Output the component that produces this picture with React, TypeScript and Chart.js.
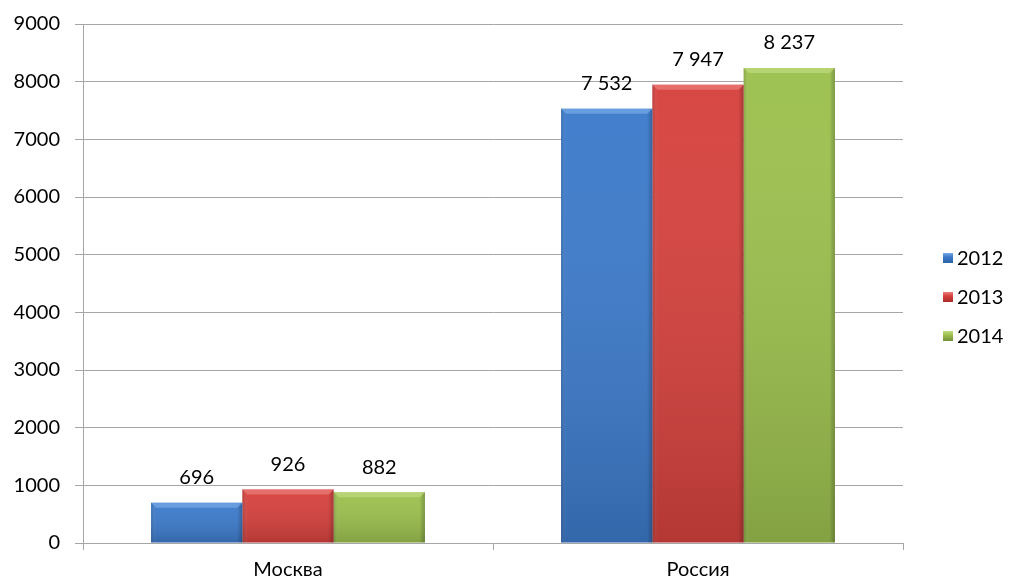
import React, { useEffect, useRef } from "react";
import { Chart, registerables } from "chart.js";

Chart.register(...registerables);

const categories = ["Москва", "Россия"];
const seriesNames = ["2012", "2013", "2014"];
const values2012 = [696, 7532];
const values2013 = [926, 7947];
const values2014 = [882, 8237];
const yTicks = [0, 1000, 2000, 3000, 4000, 5000, 6000, 7000, 8000, 9000];

const colors = ["#3d7bcb", "#d6423e", "#9cc04e"];
const lightColors = ["#78a9e6", "#ec807c", "#c0dc80"];
const darkColors = ["#2d62a6", "#a82c29", "#748f37"];

const FONT = "Lato, 'Open Sans', sans-serif";
const FS = 20;

function fmt(v: number): string {
  return String(v).replace(/\B(?=(\d{3})+(?!\d))/g, " ");
}

const bevelPlugin = {
  id: "bevel",
  afterDatasetsDraw(chart: any) {
    const ctx = chart.ctx;
    chart.data.datasets.forEach((ds: any, di: number) => {
      const meta = chart.getDatasetMeta(di);
      meta.data.forEach((bar: any, i: number) => {
        const w = bar.width;
        const left = bar.x - w / 2;
        const right = bar.x + w / 2;
        const top = bar.y;
        const bottom = bar.base;
        ctx.save();
        const gv = ctx.createLinearGradient(0, top, 0, bottom);
        gv.addColorStop(0, "rgba(255,255,255,0.03)");
        gv.addColorStop(1, "rgba(0,0,0,0.16)");
        ctx.fillStyle = gv;
        ctx.fillRect(left, top, w, bottom - top);
        const g = ctx.createLinearGradient(left, 0, right, 0);
        g.addColorStop(0, "rgba(0,0,0,0.15)");
        g.addColorStop(0.06, "rgba(255,255,255,0.0)");
        g.addColorStop(0.94, "rgba(0,0,0,0.0)");
        g.addColorStop(1, "rgba(0,0,0,0.22)");
        ctx.fillStyle = g;
        ctx.fillRect(left, top, w, bottom - top);
        const b = 5;
        ctx.beginPath();
        ctx.moveTo(left, top);
        ctx.lineTo(right, top);
        ctx.lineTo(right - b, top + b);
        ctx.lineTo(left + b, top + b);
        ctx.closePath();
        ctx.fillStyle = lightColors[di];
        ctx.globalAlpha = 0.7;
        ctx.fill();
        ctx.globalAlpha = 1;
        ctx.fillStyle = "#000";
        ctx.font = `${FS}px ${FONT}`;
        ctx.textAlign = "center";
        ctx.textBaseline = "middle";
        ctx.fillText(fmt(ds.data[i]), bar.x, top - 25);
        ctx.restore();
      });
    });
  },
};

const legendPlugin = {
  id: "customLegend",
  afterDraw(chart: any) {
    const ctx = chart.ctx;
    ctx.save();
    seriesNames.forEach((name, i) => {
      const y = 258 + i * 39;
      const x = 943;
      const g = ctx.createLinearGradient(0, y - 5, 0, y + 5);
      g.addColorStop(0, lightColors[i]);
      g.addColorStop(0.4, colors[i]);
      g.addColorStop(1, darkColors[i]);
      ctx.fillStyle = g;
      ctx.fillRect(x, y - 5, 10, 10);
      ctx.fillStyle = "#000";
      ctx.font = `${FS}px ${FONT}`;
      ctx.textAlign = "left";
      ctx.textBaseline = "middle";
      ctx.fillText(name, x + 14, y + 1);
    });
    ctx.restore();
  },
};

export default function App() {
  const ref = useRef<HTMLCanvasElement>(null);
  useEffect(() => {
    document.body.style.margin = "0";
    const chart = new Chart(ref.current!, {
      type: "bar",
      data: {
        labels: categories,
        datasets: [
          { label: seriesNames[0], data: values2012, backgroundColor: colors[0] },
          { label: seriesNames[1], data: values2013, backgroundColor: colors[1] },
          { label: seriesNames[2], data: values2014, backgroundColor: colors[2] },
        ],
      },
      options: {
        animation: false,
        responsive: false,
        layout: { padding: { top: 24, right: 107, left: 0, bottom: 0 } },
        datasets: { bar: { categoryPercentage: 0.668, barPercentage: 1.0 } },
        plugins: { legend: { display: false }, tooltip: { enabled: false } },
        scales: {
          x: {
            grid: {
              display: true,
              drawOnChartArea: false,
              offset: true,
              tickLength: 7,
              color: "#a6a6a6",
            },
            border: { display: true, color: "#a6a6a6" },
            ticks: { color: "#000", font: { family: FONT, size: FS }, padding: 8 },
            afterFit(scale: any) {
              scale.height = 37;
              scale.paddingLeft = 0;
              scale.paddingRight = 0;
            },
          },
          y: {
            min: 0,
            max: 9000,
            afterBuildTicks(scale: any) {
              scale.ticks = yTicks.map((v) => ({ value: v }));
            },
            grid: { color: "#a6a6a6", tickLength: 8 },
            border: { display: true, color: "#a6a6a6" },
            ticks: {
              color: "#000",
              font: { family: FONT, size: FS },
              padding: 15,
              callback: (v: any) => String(v),
            },
            afterFit(scale: any) {
              scale.width = 83;
              scale.paddingTop = 0;
              scale.paddingBottom = 0;
            },
          },
        },
      },
      plugins: [bevelPlugin, legendPlugin],
    });
    return () => chart.destroy();
  }, []);
  return (
    <div style={{ width: 1010, height: 580 }}>
      <canvas ref={ref} width={1010} height={580} style={{ width: 1010, height: 580 }} />
    </div>
  );
}
